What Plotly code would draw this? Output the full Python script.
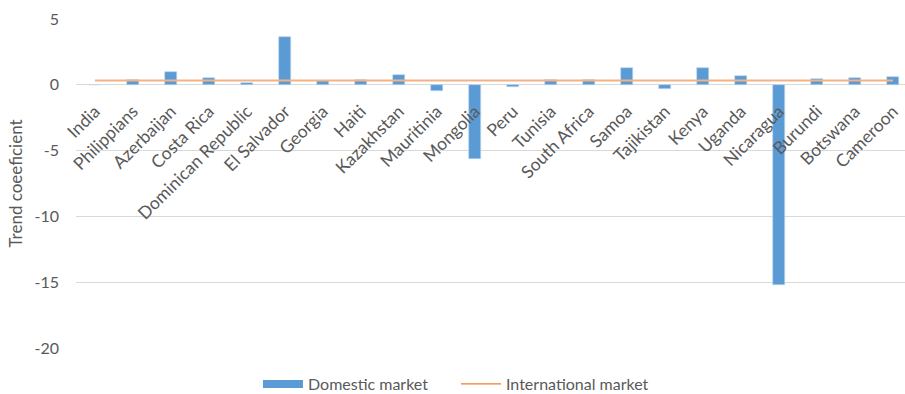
import plotly.graph_objects as go

countries = ["India", "Philippians", "Azerbaijan", "Costa Rica", "Dominican Republic",
             "El Salvador", "Georgia", "Haiti", "Kazakhstan", "Mauritinia", "Mongolia",
             "Peru", "Tunisia", "South Africa", "Samoa", "Tajikistan", "Kenya", "Uganda",
             "Nicaragua", "Burundi", "Botswana", "Cameroon"]
domestic = [0.0, 0.4, 0.94, 0.48, 0.1, 3.63, 0.3, 0.4, 0.71, -0.46, -5.6,
            -0.13, 0.38, 0.38, 1.29, -0.33, 1.29, 0.68, -15.2, 0.46, 0.48, 0.63]
international = [0.33] * len(countries)

y_ticks = [5, 0, -5, -10, -15, -20]
y_range = [-20, 5]

FONT = "Lato, Carlito, Calibri, sans-serif"
TXT = "#595959"
BLUE = "#5B9BD5"
ORANGE = "#F4B183"

W, H = 905, 394
ml, mr, mt, mb = 76, 0, 19, 46
plot_w = W - ml - mr
cat_w = 38.0
x_hi = -0.5 + plot_w / cat_w

fig = go.Figure()
fig.add_trace(go.Bar(
    x=list(range(len(countries))), y=domestic, name="Domestic market",
    marker=dict(color=BLUE, line=dict(color="#BDD7EE", width=0.6)),
    width=0.32, showlegend=False,
))
fig.add_trace(go.Scatter(
    x=list(range(len(countries))), y=international, name="International market",
    mode="lines", line=dict(color=ORANGE, width=2), showlegend=False,
))
# legend entries (Excel-style swatches)
fig.add_trace(go.Scatter(x=[None], y=[None], name="Domestic market", mode="lines",
                         line=dict(color=BLUE, width=8)))
fig.add_trace(go.Scatter(x=[None], y=[None], name="International market", mode="lines",
                         line=dict(color="#ED7D31", width=1.2)))

zero_pos = (0 - y_range[0]) / (y_range[1] - y_range[0])

fig.update_layout(
    width=W, height=H,
    margin=dict(l=ml, r=mr, t=mt, b=mb, autoexpand=False),
    paper_bgcolor="white", plot_bgcolor="white",
    font=dict(family=FONT, color=TXT, size=14),
    showlegend=True,
    legend=dict(orientation="h", xref="container", x=258 / W, xanchor="left",
                yref="container", y=(H - 384) / H, yanchor="middle",
                font=dict(size=16, color=TXT), itemwidth=40,
                entrywidth=143, entrywidthmode="pixels",
                tracegroupgap=0, traceorder="normal",
                borderwidth=0),
    bargap=0,
    xaxis=dict(
        range=[-0.5, x_hi],
        tickmode="array", tickvals=list(range(len(countries))), ticktext=countries,
        tickangle=-45, tickfont=dict(size=17.5, color=TXT),
        showgrid=False, zeroline=False, showline=False, ticks="",
        anchor="free", position=zero_pos, ticklabelstandoff=12, automargin=False,
    ),
    yaxis=dict(
        range=y_range, tickvals=y_ticks, ticktext=[str(v) for v in y_ticks],
        showgrid=True, gridcolor="#D9D9D9", gridwidth=1,
        zeroline=True, zerolinecolor="#D9D9D9", zerolinewidth=1,
        showline=False, ticks="", tickfont=dict(size=16, color=TXT),
        ticklabelstandoff=16, automargin=False,
        title=dict(text="Trend coeeficient", font=dict(size=17, color=TXT), standoff=7),
    ),
)

fig.write_html("out.html")
